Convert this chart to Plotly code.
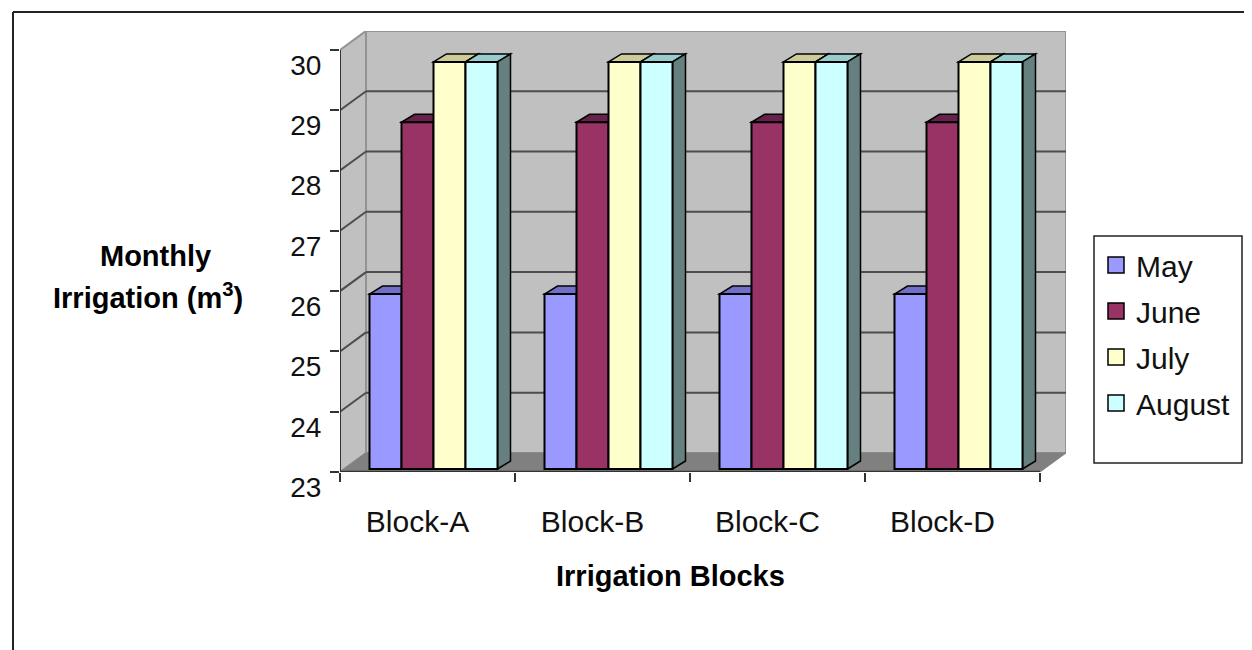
import plotly.graph_objects as go

# ---- data ----
blocks = ["Block-A", "Block-B", "Block-C", "Block-D"]
months = ["May", "June", "July", "August"]
may = [25.95, 25.95, 25.95, 25.95]
june = [28.8, 28.8, 28.8, 28.8]
july = [29.8, 29.8, 29.8, 29.8]
august = [29.8, 29.8, 29.8, 29.8]
series = [may, june, july, august]
y_ticks = [23, 24, 25, 26, 27, 28, 29, 30]

# ---- style ----
front = ["#9999FF", "#993366", "#FFFFCC", "#CCFFFF"]
top = ["#7070C8", "#66224A", "#CCCC99", "#99CCCC"]
side = ["#4C4C80", "#4C1933", "#808066", "#668080"]
FONT = "Liberation Sans"
OX, OY = 8, 8                     # where the page puts the figure's corner
W, H = 1244, 642
PX_X, PX_Y = 175.0, 60.3          # pixels per axis unit
WALL_DX, WALL_DY = 26 / PX_X, 19 / PX_Y   # depth of the chart box
BAR_DX, BAR_DY = 13 / PX_X, 8 / PX_Y      # depth of a bar
BAR_W = 32 / PX_X
GROUP_OFF = -58 / PX_X
BASE = 23.05
X0, X1 = -0.5, 3.5
Y0, Y1 = y_ticks[0], y_ticks[-1]


def px(x):
    return (x - OX) / W


def py(y):
    return 1 - (y - OY) / H


def poly(pts, fill, line="#808080", width=1.5, layer="below"):
    path = "M" + " L".join(f"{x:.5f},{y:.5f}" for x, y in pts) + " Z"
    return dict(type="path", path=path, xref="x", yref="y", fillcolor=fill,
                line=dict(color=line, width=width), layer=layer)


def seg(x0, y0, x1, y1, color, width):
    return dict(type="line", x0=x0, y0=y0, x1=x1, y1=y1, xref="x", yref="y",
                line=dict(color=color, width=width), layer="below")


shapes = [
    poly([(X0 + WALL_DX, Y0 + WALL_DY), (X1 + WALL_DX, Y0 + WALL_DY),
          (X1 + WALL_DX, Y1 + WALL_DY), (X0 + WALL_DX, Y1 + WALL_DY)], "#C0C0C0", "#939393", 2),
    poly([(X0, Y0), (X0 + WALL_DX, Y0 + WALL_DY), (X0 + WALL_DX, Y1 + WALL_DY), (X0, Y1)],
         "#C0C0C0", "#939393", 2),
    poly([(X0, Y0), (X1, Y0), (X1 + WALL_DX, Y0 + WALL_DY), (X0 + WALL_DX, Y0 + WALL_DY)],
         "#808080", "#808080", 1),
]
for v in y_ticks[1:-1]:
    shapes.append(seg(X0 + WALL_DX, v + WALL_DY, X1 + WALL_DX, v + WALL_DY, "#4D4D4D", 2))
    shapes.append(seg(X0, v, X0 + WALL_DX, v + WALL_DY, "#4D4D4D", 2))
shapes.append(seg(X0, Y0, X1, Y0, "#333333", 2.5))
shapes.append(seg(X0, Y0, X0, Y1, "#333333", 2))

fig = go.Figure()
xs = list(range(len(blocks)))
for m, (name, vals) in enumerate(zip(months, series)):
    offset = GROUP_OFF + m * BAR_W
    for x, v in zip(xs, vals):
        l, r = x + offset, x + offset + BAR_W
        shapes.append(poly([(l, v), (l + BAR_DX, v + BAR_DY), (r + BAR_DX, v + BAR_DY), (r, v)],
                           top[m], "#000000", 1.5))
        shapes.append(poly([(r, BASE), (r + BAR_DX, BASE + BAR_DY), (r + BAR_DX, v + BAR_DY), (r, v)],
                           side[m], "#000000", 1.5))
    fig.add_bar(x=xs, y=[v - BASE for v in vals], base=BASE, width=BAR_W, offset=offset,
                marker=dict(color=front[m], line=dict(color="#000000", width=2)),
                name=name, showlegend=False, cliponaxis=False)
    fig.add_scatter(x=[None], y=[None], mode="markers", name=name, legendgroup=name,
                    marker=dict(symbol="square", size=16, color=front[m],
                                line=dict(color="#000000", width=1.5)))

shapes.append(dict(type="rect", xref="paper", yref="paper", x0=px(1094), x1=px(1242),
                   y0=py(463), y1=py(236), fillcolor="white",
                   line=dict(color="#222222", width=1.5), layer="below"))
shapes.append(dict(type="line", xref="paper", yref="paper", x0=px(13), x1=px(13),
                   y0=0, y1=py(12), line=dict(color="#222222", width=2)))
shapes.append(dict(type="line", xref="paper", yref="paper", x0=px(13), x1=px(1251),
                   y0=py(12), y1=py(12), line=dict(color="#222222", width=2)))

bold = dict(family=FONT, size=29, color="#000000")
annotations = [
    dict(text="<b>Monthly</b>", x=px(155), y=py(256)),
    dict(text="<b>Irrigation (m<sup>3</sup>)</b>", x=px(148), y=py(296)),
    dict(text="<b>Irrigation Blocks</b>", x=px(670), y=py(576)),
]
for a in annotations:
    a.update(xref="paper", yref="paper", showarrow=False, xanchor="center", yanchor="middle", font=bold)

fig.update_layout(
    width=W, height=H, autosize=False,
    margin=dict(l=0, r=0, t=0, b=0, pad=0),
    paper_bgcolor="white", plot_bgcolor="rgba(0,0,0,0)",
    font=dict(family=FONT, size=30, color="#111111"),
    shapes=shapes, annotations=annotations, barmode="overlay",
    showlegend=True,
    legend=dict(x=px(1096), y=py(239), xref="paper", yref="paper",
                xanchor="left", yanchor="top",
                bgcolor="rgba(0,0,0,0)", borderwidth=0, tracegroupgap=4,
                font=dict(family=FONT, size=30, color="#111111"), itemwidth=30),
    xaxis=dict(domain=[px(340), px(340 + (X1 - X0 + WALL_DX) * PX_X)], automargin=False,
               range=[X0, X1 + WALL_DX], tickmode="array", tickvals=xs, ticktext=blocks,
               ticks="", showgrid=False, zeroline=False, showline=False,
               ticklabelstandoff=29, ticklabelshift=-10,
               minor=dict(tickmode="array", tickvals=[-0.5, 0.5, 1.5, 2.5, 3.5], ticks="outside",
                          ticklen=9, tickwidth=2, tickcolor="#333333", showgrid=False)),
    yaxis=dict(domain=[py(472), py(472 - (Y1 - Y0 + WALL_DY) * PX_Y)], automargin=False,
               range=[Y0, Y1 + WALL_DY], tickmode="array", tickvals=y_ticks,
               ticks="outside", ticklen=9, tickwidth=2, tickcolor="#333333",
               tickfont=dict(size=28),
               showgrid=False, zeroline=False, showline=False,
               ticklabelstandoff=3, ticklabelshift=15,
               anchor="x", position=0),
)
fig.write_html("out.html")
